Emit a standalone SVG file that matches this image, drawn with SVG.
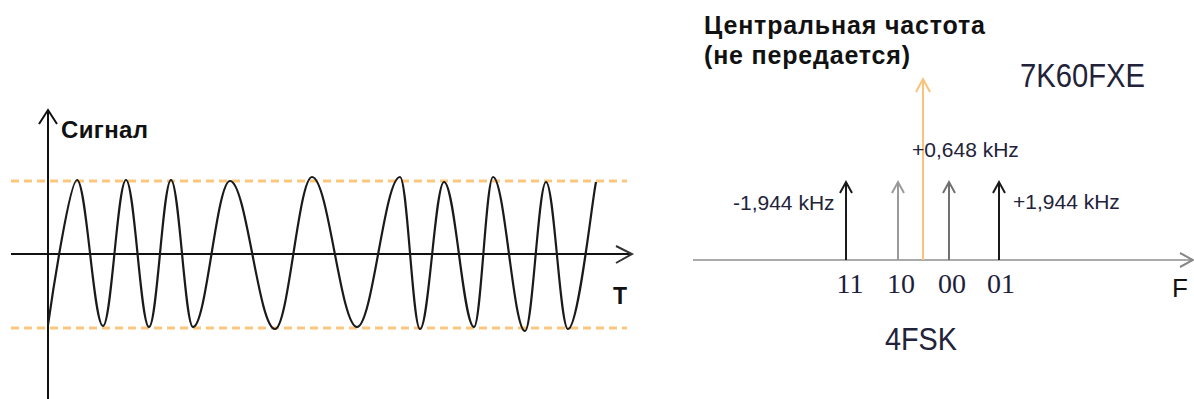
<svg xmlns="http://www.w3.org/2000/svg" width="1194" height="399" viewBox="0 0 1194 399">
<style>
.axis{stroke:#111;stroke-width:2;fill:none}
.dash{stroke:#fbc77f;stroke-width:3;stroke-dasharray:8 5;fill:none}
.wave{stroke:#1a1a1a;stroke-width:2.2;fill:none;stroke-linejoin:round}
.arr{stroke-width:2;fill:none}
.bold{font-family:"Liberation Sans",Arial,sans-serif;font-weight:bold;fill:#111}
.lbl{font-family:"Liberation Sans",Arial,sans-serif;fill:#22223a}
.num{font-family:"Liberation Serif","Times New Roman",serif;fill:#1e1e3c;text-anchor:middle}
</style>
<rect width="1194" height="399" fill="#fff"/>
<g id="time-plot">
  <line class="dash" x1="11" y1="181" x2="627" y2="181"/>
  <line class="dash" x1="11" y1="328" x2="627" y2="328"/>
  <line class="axis" x1="48" y1="399" x2="48" y2="111"/>
  <polyline class="axis" points="39,124 48,110 57,124"/>
  <line class="axis" x1="11" y1="254" x2="631" y2="254"/>
  <polyline class="axis" points="616,246 632,254 616,263" style="stroke:#333"/>
  <path class="wave" d="M48,325 C53,290 70,180 77,180 C86.4,180 93.6,326 103,326 C111.4,326 117.6,180 126,180 C134.4,180 140.6,327 149,327 C157,327 163,180 171,180 C179,180 185,327 193,327 C206.4,327 216.6,181 230,181 C246.4,181 258.6,329 275,329 C288.4,329 298.6,177 312,177 C328.4,177 340.6,327 357,327 C372.6,327 384.4,177 400,177 C407.3,177 412.7,329 420,329 C428.7,329 435.3,182 444,182 C454.9,182 463.1,327 474,327 C480.9,327 486.1,177 493,177 C504.6,177 513.4,331 525,331 C532.6,331 538.4,182 546,182 C554,182 560,329 568,329 C578.5,329 592,200 596,182"/>
  <text class="bold" x="61" y="138" font-size="24" textLength="87">Сигнал</text>
  <text class="bold" x="613" y="304" font-size="23">T</text>
</g>
<g id="spectrum">
  <line x1="693" y1="260" x2="1192" y2="260" stroke="#aaa" stroke-width="2"/>
  <polyline points="1180,253 1193,260 1180,267" stroke="#888" stroke-width="2" fill="none"/>
  <g id="connectors">
    <g id="arrow-11" stroke="#1a1a1a" class="arr"><line x1="846" y1="260" x2="846" y2="183"/><polyline points="840,193 846,182 852,193"/></g>
    <g id="arrow-10" stroke="#9a9a9a" class="arr"><line x1="898" y1="260" x2="898" y2="183"/><polyline points="892,193 898,182 904,193"/></g>
    <g id="arrow-center" stroke="#fbc27a" class="arr"><line x1="923" y1="260" x2="923" y2="80"/><polyline points="916,92 923,79 930,92"/></g>
    <g id="arrow-00" stroke="#707070" class="arr"><line x1="949" y1="260" x2="949" y2="183"/><polyline points="943,193 949,182 955,193"/></g>
    <g id="arrow-01" stroke="#1a1a1a" class="arr"><line x1="999" y1="260" x2="999" y2="183"/><polyline points="993,193 999,182 1005,193"/></g>
  </g>
  <text class="bold" x="704" y="34" font-size="25" textLength="281">Центральная частота</text>
  <text class="bold" x="704" y="64" font-size="25" textLength="206">(не передается)</text>
  <text class="lbl" x="1020" y="87" font-size="33" textLength="125" lengthAdjust="spacingAndGlyphs">7K60FXE</text>
  <text class="lbl" x="912" y="157" font-size="21">+0,648 kHz</text>
  <text class="lbl" x="733" y="210" font-size="21">-1,944 kHz</text>
  <text class="lbl" x="1013" y="209" font-size="21">+1,944 kHz</text>
  <text class="num" x="850" y="293" font-size="28">11</text>
  <text class="num" x="901" y="293" font-size="28">10</text>
  <text class="num" x="952" y="293" font-size="28">00</text>
  <text class="num" x="1001" y="293" font-size="28">01</text>
  <text class="lbl" x="1172" y="297" font-size="26" style="fill:#111">F</text>
  <text class="lbl" x="885" y="350" font-size="32" textLength="72" lengthAdjust="spacingAndGlyphs">4FSK</text>
</g>
</svg>
